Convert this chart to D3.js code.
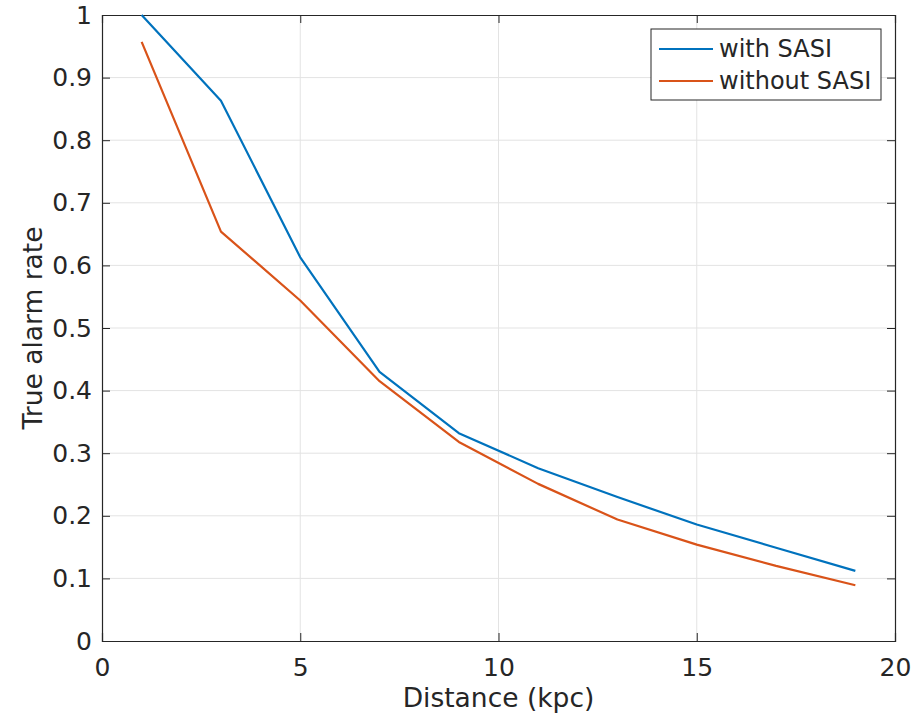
<!DOCTYPE html>
<html>
<head>
<meta charset="utf-8">
<script src="https://cdn.jsdelivr.net/npm/d3@7"></script>
<style>
  body { margin: 0; background: #fff; }
  text { font-family: "DejaVu Sans", sans-serif; fill: #262626; }
</style>
</head>
<body>
<script>
// Data
var distance = [1, 3, 5, 7, 9, 11, 13, 15, 17, 19]
var withSASI = [1.0, 0.863, 0.613, 0.43, 0.332, 0.276, 0.23, 0.186, 0.149, 0.112]
var withoutSASI = [0.957, 0.654, 0.544, 0.415, 0.318, 0.251, 0.194, 0.154, 0.12, 0.089]
var xTicks = [0, 5, 10, 15, 20]
var yTicks = [0, 0.1, 0.2, 0.3, 0.4, 0.5, 0.6, 0.7, 0.8, 0.9, 1]
var seriesNames = ["with SASI", "without SASI"]
var seriesColors = ["#0072BD", "#D95319"]

var width = 912, height = 716
var margin = {top: 15, right: 17, bottom: 75, left: 102}
var w = width - margin.left - margin.right
var h = height - margin.top - margin.bottom

var svg = d3.select("body").append("svg")
    .attr("width", width)
    .attr("height", height)

var g = svg.append("g")
    .attr("transform", "translate(" + margin.left + "," + margin.top + ")")

var x = d3.scaleLinear().domain([0, 20]).range([0, w])
var y = d3.scaleLinear().domain([0, 1]).range([h, 0])

// grid
g.append("g").selectAll("line").data(xTicks.slice(1, -1)).join("line")
    .attr("x1", d => x(d)).attr("x2", d => x(d))
    .attr("y1", 0).attr("y2", h)
    .attr("stroke", "#e3e3e3").attr("stroke-width", 1)
g.append("g").selectAll("line").data(yTicks.slice(1, -1)).join("line")
    .attr("y1", d => y(d)).attr("y2", d => y(d))
    .attr("x1", 0).attr("x2", w)
    .attr("stroke", "#e3e3e3").attr("stroke-width", 1)

// axes with inward ticks, MATLAB box style
var tickLen = 8
var xAxis = g.append("g").attr("transform", "translate(0," + h + ")")
    .call(d3.axisBottom(x).tickValues(xTicks).tickSize(-tickLen).tickPadding(17).tickFormat(d3.format("d")))
var xAxisTop = g.append("g")
    .call(d3.axisTop(x).tickValues(xTicks).tickSize(-tickLen).tickFormat(""))
var yAxis = g.append("g")
    .call(d3.axisLeft(y).tickValues(yTicks).tickSize(-tickLen).tickPadding(10).tickFormat(d => d === 0 || d === 1 ? d3.format("d")(d) : d3.format(".1f")(d)))
var yAxisRight = g.append("g").attr("transform", "translate(" + w + ",0)")
    .call(d3.axisRight(y).tickValues(yTicks).tickSize(-tickLen).tickFormat(""))

;[xAxis, xAxisTop, yAxis, yAxisRight].forEach(function(a) {
    a.select(".domain").attr("stroke", "#262626").attr("stroke-width", 1.2)
    a.selectAll(".tick line").attr("stroke", "#262626")
    a.selectAll("text").style("font-size", "25px").attr("fill", "#262626")
})

// lines
var line = d3.line().x((d, i) => x(distance[i])).y(d => y(d))
;[withSASI, withoutSASI].forEach(function(s, k) {
    g.append("path").datum(s)
        .attr("d", line)
        .attr("fill", "none")
        .attr("stroke", seriesColors[k])
        .attr("stroke-width", 2.2)
        .attr("stroke-linejoin", "round")
})

// axis labels
svg.append("text")
    .attr("x", margin.left + w / 2).attr("y", 707)
    .attr("text-anchor", "middle")
    .style("font-size", "26.5px")
    .text("Distance (kpc)")
svg.append("text")
    .attr("transform", "translate(42," + (margin.top + h / 2) + ") rotate(-90)")
    .attr("text-anchor", "middle")
    .style("font-size", "26.5px")
    .text("True alarm rate")

// legend
var lg = svg.append("g").attr("transform", "translate(651,29)")
lg.append("rect").attr("width", 230).attr("height", 71)
    .attr("fill", "#fff").attr("stroke", "#262626").attr("stroke-width", 1)
seriesNames.forEach(function(name, k) {
    var yy = 20 + k * 32
    lg.append("line").attr("x1", 8).attr("x2", 62).attr("y1", yy).attr("y2", yy)
        .attr("stroke", seriesColors[k]).attr("stroke-width", 2.2)
    lg.append("text").attr("x", 68).attr("y", yy).attr("dy", "0.35em")
        .style("font-size", "24px").attr("fill", "#000").text(name)
})
</script>
</body>
</html>
